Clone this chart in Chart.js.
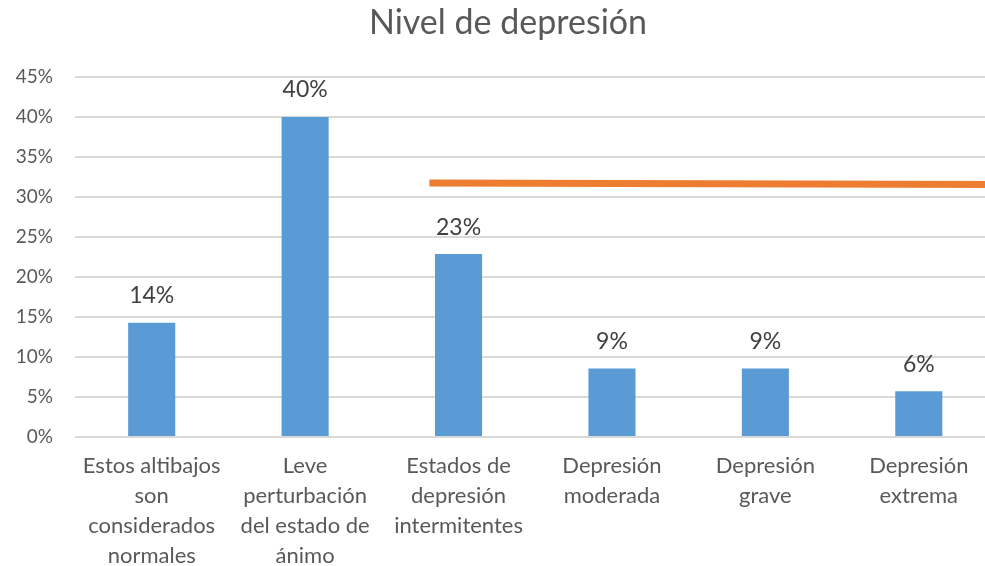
<!DOCTYPE html>
<html>
<head>
<meta charset="utf-8">
<script src="https://cdn.jsdelivr.net/npm/chart.js@4"></script>
<style>
html,body{margin:0;padding:0;background:#fff;overflow:hidden;}
#wrap{width:1016px;height:566px;position:relative;}
</style>
</head>
<body>
<div id="wrap"><canvas id="c"></canvas></div>
<script>
const chartTitle = 'Nivel de depresión';
const categories = [
  ["Estos altibajos","son","considerados","normales"],
  ["Leve","perturbación","del estado de","ánimo"],
  ["Estados de","depresión","intermitentes"],
  ["Depresión","moderada"],
  ["Depresión","grave"],
  ["Depresión","extrema"]
];
const percentages = [14.29, 40.0, 22.86, 8.57, 8.57, 5.71];
const valueLabels = ["14%","40%","23%","9%","9%","6%"];
const orangeLineX = [1.81, 5.5];
const orangeLineY = [31.75, 31.55];
const yTicks = [0,5,10,15,20,25,30,35,40,45];

const FONT = "Lato, 'Open Sans', sans-serif";

const dataLabelPlugin = {
  id: 'dataLabels',
  afterDatasetsDraw(chart) {
    const meta = chart.getDatasetMeta(0);
    const ctx = chart.ctx;
    ctx.save();
    ctx.font = "23px " + FONT;
    ctx.fillStyle = "#404040";
    ctx.textAlign = "center";
    ctx.textBaseline = "middle";
    meta.data.forEach((bar, i) => {
      ctx.fillText(valueLabels[i], bar.x, bar.y - 27);
    });
    ctx.restore();
  }
};

const titlePlugin = {
  id: 'centeredTitle',
  afterDraw(chart) {
    const ctx = chart.ctx;
    ctx.save();
    ctx.font = "34px " + FONT;
    ctx.fillStyle = "#595959";
    ctx.textAlign = "center";
    ctx.textBaseline = "middle";
    ctx.fillText(chartTitle, chart.width / 2, 23);
    ctx.restore();
  }
};

new Chart(document.getElementById('c'), {
  type: 'bar',
  data: {
    labels: categories,
    datasets: [
      {
        type: 'bar',
        data: percentages,
        backgroundColor: '#5B9BD5',
        categoryPercentage: 1,
        barPercentage: 0.307,
        grouped: false,
        xAxisID: 'x',
        yAxisID: 'y',
        order: 2
      },
      {
        type: 'line',
        data: orangeLineX.map((x, i) => ({x: x, y: orangeLineY[i]})),
        borderColor: '#ED7D31',
        borderWidth: 7,
        pointRadius: 0,
        clip: false,
        xAxisID: 'x2',
        yAxisID: 'y',
        order: 1
      }
    ]
  },
  options: {
    responsive: true,
    maintainAspectRatio: false,
    animation: false,
    layout: { padding: { left: 0, right: 20.5, top: 77, bottom: 0 } },
    plugins: {
      legend: { display: false },
      tooltip: { enabled: false },
      title: { display: false }
    },
    scales: {
      x: {
        type: 'category',
        offset: true,
        grid: { display: false, drawTicks: false },
        border: { display: false },
        ticks: {
          color: '#595959',
          font: { family: FONT, size: 22, lineHeight: 1.36 },
          padding: 14,
          maxRotation: 0,
          autoSkip: false
        },
        afterFit(scale) { scale.height = 129; }
      },
      x2: {
        type: 'linear',
        display: false,
        offset: false,
        bounds: 'ticks',
        min: -0.5,
        max: 5.5,
        grid: { offset: false }
      },
      y: {
        min: 0,
        max: 45,
        afterBuildTicks(scale) { scale.ticks = yTicks.map(v => ({value: v})); },
        grid: { color: '#d9d9d9', lineWidth: 2, drawTicks: false },
        border: { display: false },
        ticks: {
          color: '#595959',
          font: { family: FONT, size: 19 },
          padding: 22,
          callback: v => v + '%'
        },
        afterFit(scale) { scale.width = 75; }
      }
    }
  },
  plugins: [dataLabelPlugin, titlePlugin]
});
</script>
</body>
</html>
